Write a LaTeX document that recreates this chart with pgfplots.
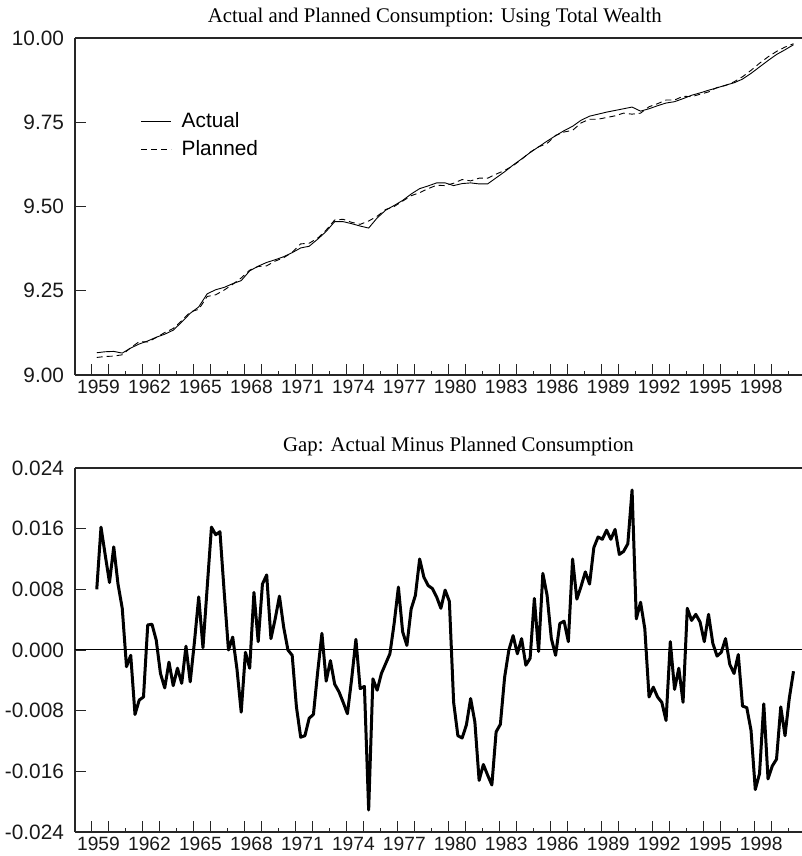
\documentclass[border=0pt]{standalone}
\usepackage{pgfplots}
\usepackage{pgfplotstable}
\pgfplotsset{compat=1.18}
\usepackage{fontspec}
\setmainfont{Liberation Serif}
\newfontfamily\sansf{Liberation Sans}

\pgfplotstableread{
t A P
1959.3 9.066 9.052
1959.8 9.069 9.055
1960.3 9.070 9.056
1960.8 9.065 9.060
1961.3 9.080 9.081
1961.8 9.092 9.099
1962.3 9.101 9.098
1962.8 9.112 9.111
1963.3 9.121 9.126
1963.8 9.133 9.138
1964.3 9.157 9.161
1964.8 9.183 9.187
1965.3 9.202 9.195
1965.8 9.241 9.233
1966.3 9.253 9.238
1966.8 9.260 9.252
1967.3 9.271 9.269
1967.8 9.280 9.288
1968.3 9.309 9.311
1968.8 9.323 9.322
1969.3 9.334 9.324
1969.8 9.342 9.338
1970.3 9.351 9.348
1970.8 9.363 9.364
1971.3 9.377 9.389
1971.8 9.382 9.391
1972.3 9.403 9.406
1972.8 9.426 9.430
1973.3 9.455 9.460
1973.8 9.455 9.462
1974.3 9.449 9.453
1974.8 9.442 9.447
1975.3 9.436 9.457
1975.8 9.466 9.471
1976.3 9.489 9.491
1976.8 9.503 9.500
1977.3 9.518 9.516
1977.8 9.537 9.532
1978.3 9.553 9.541
1978.8 9.561 9.553
1979.3 9.570 9.563
1979.8 9.570 9.562
1980.3 9.562 9.569
1980.8 9.568 9.580
1981.3 9.570 9.576
1981.8 9.567 9.584
1982.3 9.567 9.584
1982.8 9.585 9.596
1983.3 9.603 9.607
1983.8 9.623 9.621
1984.3 9.641 9.640
1984.8 9.660 9.661
1985.3 9.677 9.677
1985.8 9.694 9.687
1986.3 9.710 9.711
1986.8 9.725 9.721
1987.3 9.738 9.726
1987.8 9.756 9.748
1988.3 9.768 9.759
1988.8 9.774 9.759
1989.3 9.780 9.764
1989.8 9.785 9.769
1990.3 9.790 9.777
1990.8 9.795 9.774
1991.3 9.783 9.777
1991.8 9.790 9.796
1992.3 9.799 9.805
1992.8 9.807 9.816
1993.3 9.811 9.816
1993.8 9.820 9.827
1994.3 9.830 9.826
1994.8 9.837 9.833
1995.3 9.845 9.840
1995.8 9.852 9.853
1996.3 9.860 9.859
1996.8 9.867 9.870
1997.3 9.878 9.885
1997.8 9.895 9.904
1998.3 9.914 9.925
1998.8 9.933 9.944
1999.3 9.951 9.960
1999.8 9.965 9.973
2000.3 9.980 9.983
}\levels

\pgfplotstableread{
t g
1959.30 0.0080
1959.55 0.0162
1959.80 0.0125
1960.05 0.0089
1960.30 0.0136
1960.55 0.0087
1960.80 0.0055
1961.05 -0.0022
1961.30 -0.0007
1961.55 -0.0085
1961.80 -0.0066
1962.05 -0.0062
1962.30 0.0033
1962.55 0.0034
1962.80 0.0013
1963.05 -0.0031
1963.30 -0.0050
1963.55 -0.0016
1963.80 -0.0047
1964.05 -0.0024
1964.30 -0.0044
1964.55 0.0005
1964.80 -0.0042
1965.05 0.0011
1965.30 0.0070
1965.55 0.0003
1965.80 0.0083
1966.05 0.0162
1966.30 0.0152
1966.55 0.0156
1966.80 0.0076
1967.05 0.0000
1967.30 0.0017
1967.55 -0.0025
1967.80 -0.0082
1968.05 -0.0003
1968.30 -0.0024
1968.55 0.0076
1968.80 0.0011
1969.05 0.0087
1969.30 0.0099
1969.55 0.0015
1969.80 0.0041
1970.05 0.0071
1970.30 0.0030
1970.55 0.0000
1970.80 -0.0007
1971.05 -0.0075
1971.30 -0.0115
1971.55 -0.0113
1971.80 -0.0090
1972.05 -0.0085
1972.30 -0.0029
1972.55 0.0022
1972.80 -0.0041
1973.05 -0.0014
1973.30 -0.0045
1973.55 -0.0055
1973.80 -0.0069
1974.05 -0.0084
1974.30 -0.0038
1974.55 0.0014
1974.80 -0.0051
1975.05 -0.0048
1975.30 -0.0211
1975.55 -0.0038
1975.80 -0.0053
1976.05 -0.0031
1976.30 -0.0018
1976.55 -0.0005
1976.80 0.0035
1977.05 0.0083
1977.30 0.0024
1977.55 0.0006
1977.80 0.0054
1978.05 0.0072
1978.30 0.0120
1978.55 0.0096
1978.80 0.0085
1979.05 0.0081
1979.30 0.0070
1979.55 0.0055
1979.80 0.0079
1980.05 0.0064
1980.30 -0.0069
1980.55 -0.0113
1980.80 -0.0116
1981.05 -0.0099
1981.30 -0.0064
1981.55 -0.0095
1981.80 -0.0172
1982.05 -0.0151
1982.30 -0.0165
1982.55 -0.0178
1982.80 -0.0108
1983.05 -0.0098
1983.30 -0.0036
1983.55 0.0000
1983.80 0.0019
1984.05 -0.0005
1984.30 0.0015
1984.55 -0.0020
1984.80 -0.0011
1985.05 0.0068
1985.30 -0.0002
1985.55 0.0101
1985.80 0.0072
1986.05 0.0015
1986.30 -0.0007
1986.55 0.0035
1986.80 0.0038
1987.05 0.0011
1987.30 0.0120
1987.55 0.0067
1987.80 0.0084
1988.05 0.0103
1988.30 0.0087
1988.55 0.0135
1988.80 0.0149
1989.05 0.0146
1989.30 0.0158
1989.55 0.0146
1989.80 0.0159
1990.05 0.0126
1990.30 0.0130
1990.55 0.0140
1990.80 0.0211
1991.05 0.0041
1991.30 0.0063
1991.55 0.0028
1991.80 -0.0062
1992.05 -0.0049
1992.30 -0.0062
1992.55 -0.0069
1992.80 -0.0093
1993.05 0.0011
1993.30 -0.0052
1993.55 -0.0024
1993.80 -0.0069
1994.05 0.0055
1994.30 0.0039
1994.55 0.0047
1994.80 0.0037
1995.05 0.0011
1995.30 0.0047
1995.55 0.0009
1995.80 -0.0008
1996.05 -0.0003
1996.30 0.0015
1996.55 -0.0019
1996.80 -0.0031
1997.05 -0.0006
1997.30 -0.0074
1997.55 -0.0076
1997.80 -0.0106
1998.05 -0.0184
1998.30 -0.0163
1998.55 -0.0071
1998.80 -0.0170
1999.05 -0.0153
1999.30 -0.0144
1999.55 -0.0075
1999.80 -0.0113
2000.05 -0.0064
2000.30 -0.0028
}\gap

\pgfplotsset{
  myaxis/.style={
    scale only axis, width=363.5pt,
    xmin=1958.02, xmax=2000.8,
    axis x line*=box, axis y line*=left,
    axis line style={line width=0.6pt, black!85},
    tick align=inside,
    xtick pos=bottom, ytick pos=left,
    scaled y ticks=false, scaled x ticks=false,
    xtick={1959,1960,1962,1963,1965,1966,1968,1969,1971,1972,1974,1975,1977,1978,1980,1981,1983,1984,1986,1987,1989,1990,1992,1993,1995,1996,1998,1999},
    xticklabels={},
    minor xtick={1961,1964,1967,1970,1973,1976,1979,1982,1985,1988,1991,1994,1997,2000},
    major tick length=5.5pt, minor tick length=2pt,
    tick style={line width=0.6pt, black!85},
    extra x ticks={1959.4,1962.4,1965.4,1968.4,1971.4,1974.4,1977.4,1980.4,1983.4,1986.4,1989.4,1992.4,1995.4,1998.4},
    extra x tick labels={1959,1962,1965,1968,1971,1974,1977,1980,1983,1986,1989,1992,1995,1998},
    extra x tick style={tick style={draw=none}},
    yticklabel style={font=\sansf\fontsize{10.4}{12}\selectfont, black!90, xshift=-2pt},
    xticklabel style={font=\sansf\fontsize{9.6}{12}\selectfont, black!90, yshift=1pt},
    title style={font=\fontsize{10.4}{12}\selectfont, anchor=base},
  }
}

\begin{document}
\begin{tikzpicture}
\useasboundingbox (0,0) rectangle (401pt,428pt);
\begin{axis}[myaxis,
  at={(37.5pt,240.5pt)}, anchor=south west, height=168.5pt,
  ymin=9, ymax=10,
  ytick={9,9.25,9.5,9.75,10},
  yticklabels={9.00,9.25,9.50,9.75,10.00},
  title={Actual and Planned Consumption: Using Total Wealth},
  title style={at={(axis description cs:0.495,1)}, yshift=1.6pt},
  legend style={at={(axis description cs:0.09,0.788)}, anchor=north west,
    draw=none, fill=none, font=\sansf\fontsize{10.4}{12}\selectfont,
    row sep=2pt, inner sep=0pt, nodes={inner ysep=1.5pt, inner xsep=5pt}},
  legend cell align=left,
  legend image code/.code={\draw[#1] (0pt,0pt) -- (15pt,0pt);},
]
\addplot[black, line width=0.45pt] table[x=t, y=A] {\levels};
\addlegendentry{Actual}
\addplot[black, line width=0.45pt, dash pattern=on 3pt off 2pt] table[x=t, y=P] {\levels};
\addlegendentry{Planned}
\end{axis}

\begin{axis}[myaxis,
  at={(37.5pt,12pt)}, anchor=south west, height=182pt,
  ymin=-0.024, ymax=0.024,
  ytick={-0.024,-0.016,-0.008,0,0.008,0.016,0.024},
  yticklabels={-0.024,-0.016,-0.008,0.000,0.008,0.016,0.024},
  title={Gap: Actual Minus Planned Consumption},
  title style={at={(axis description cs:0.5275,1)}, yshift=2.15pt},
]
\addplot[black, line width=0.5pt] coordinates {(1958.02,0) (2000.8,0)};
\addplot[black, line width=1.5pt, line join=round] table[x=t, y=g] {\gap};
\end{axis}
\end{tikzpicture}
\end{document}
